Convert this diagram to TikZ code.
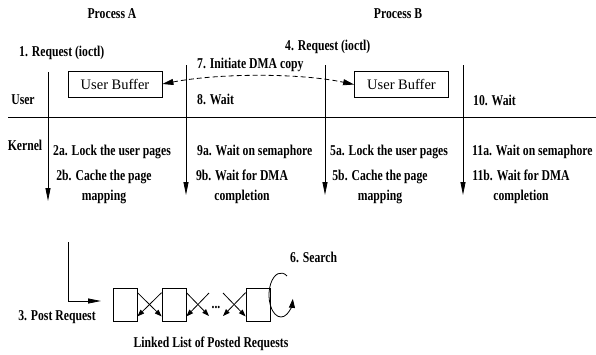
\documentclass[tikz,border=0pt]{standalone}
\usepackage{fontspec}
\setmainfont{Liberation Serif}
\newfontfamily\lblfont{Liberation Serif}[FakeStretch=0.78]
\usetikzlibrary{arrows.meta}
\begin{document}
\begin{tikzpicture}[x=1pt,y=1pt,
  lbl/.style={font=\lblfont\bfseries\fontsize{15}{19.5}\selectfont, inner sep=0pt},
  buf/.style={draw, line width=0.8pt, minimum width=94pt, minimum height=26pt, inner sep=0pt, font=\fontsize{14.5}{16}\selectfont},
  lnode/.style={draw, line width=0.8pt, minimum width=24pt, minimum height=33pt, inner sep=0pt},
  ln/.style={line width=0.8pt},
  life/.style={line width=0.8pt, -{Triangle[length=13pt,width=5pt]}},
  small/.style={line width=0.8pt, -{Triangle[length=7pt,width=5pt]}},
  dma/.style={line width=0.8pt, dash pattern=on 5pt off 3pt, {Triangle[length=11pt,width=6pt]}-{Triangle[length=11pt,width=6pt]}}]
\useasboundingbox (0,0) rectangle (596,-354);
% titles
\node[lbl] (pa) at (112,-14) {Process A};
\node[lbl] (pb) at (398,-14) {Process B};
\node[lbl, anchor=west] (r1) at (19,-53) {1. Request (ioctl)};
\node[lbl, anchor=west] (r4) at (285,-47) {4. Request (ioctl)};
\node[lbl, anchor=west] (dmatxt) at (197,-65) {7. Initiate DMA copy};
\node[lbl, anchor=west] (w8) at (197,-99) {8. Wait};
\node[lbl] (user) at (23,-100) {User};
\node[lbl, anchor=west] (w10) at (473,-100) {10. Wait};
\node[lbl] (kern) at (25,-145) {Kernel};
% kernel texts
\node[lbl, anchor=west] (a2) at (53,-152) {2a. Lock the user pages};
\node[lbl, align=center] (b2) at (104,-187) {2b. Cache the page\\mapping};
\node[lbl, anchor=west] (a9) at (197,-152) {9a. Wait on semaphore};
\node[lbl, align=center] (b9) at (242,-187) {9b. Wait for DMA\\completion};
\node[lbl, anchor=west] (a5) at (330,-152) {5a. Lock the user pages};
\node[lbl, align=center] (b5) at (380,-187) {5b. Cache the page\\mapping};
\node[lbl, anchor=west] (a11) at (472,-152) {11a. Wait on semaphore};
\node[lbl, align=center] (b11) at (521,-187) {11b. Wait for DMA\\completion};
% buffers
\node[buf] (bufA) at (115,-84) {User Buffer};
\node[buf] (bufB) at (401.5,-84.5) {User Buffer};
\draw[dma] (bufA.east) .. controls (220,-73) and (300,-73) .. (bufB.west);
% divider
\coordinate (dl) at (8,-117);
\coordinate (dr) at (596,-117);
\draw[ln] (dl) -- (dr);
% lifelines
\coordinate (a1t) at (48,-72);  \coordinate (a1b) at (48,-201);
\coordinate (a2t) at (186,-65); \coordinate (a2b) at (186,-195);
\coordinate (b1t) at (325,-65); \coordinate (b1b) at (325,-195);
\coordinate (b2t) at (463,-65); \coordinate (b2b) at (463,-195);
\draw[life] (a1t) -- (a1b);
\draw[life] (a2t) -- (a2b);
\draw[life] (b1t) -- (b1b);
\draw[life] (b2t) -- (b2b);
% linked list
\node[lnode] (l1) at (125,-304.5) {};
\node[lnode] (l2) at (174,-304.5) {};
\node[lnode] (l3) at (258,-304.5) {};
\node[lbl] (dots) at (216,-307) {...};
\coordinate (pt) at (68,-242);
\coordinate (pe) at (101,-301);
\draw[life] (pt) |- (pe);
\node[lbl] (post) at (57,-317) {3. Post Request};
% X arrows
\draw[small] ([yshift=-5pt]l1.north east) -- ([yshift=5pt]l2.south west);
\draw[small] ([yshift=-5pt]l2.north west) -- ([yshift=5pt]l1.south east);
\coordinate (d1t) at (209,-293); \coordinate (d1b) at (209,-316);
\coordinate (d2t) at (223,-293); \coordinate (d2b) at (223,-316);
\draw[small] ([yshift=-5pt]l2.north east) -- (d1b);
\draw[small] (d1t) -- ([yshift=5pt]l2.south east);
\draw[small] (d2t) -- ([yshift=5pt]l3.south west);
\draw[small] ([yshift=-5pt]l3.north west) -- (d2b);
% search
\node[lbl, anchor=west] (srch) at (290,-257) {6. Search};
\coordinate (sc) at (281,-295);
\draw[ln, -{Triangle[length=9pt,width=6pt]}] ([shift={(60:12pt and 22pt)}]sc) arc[start angle=60, end angle=350, x radius=12pt, y radius=22pt];
\node[lbl] (ll) at (211,-344) {Linked List of Posted Requests};
\end{tikzpicture}
\end{document}
